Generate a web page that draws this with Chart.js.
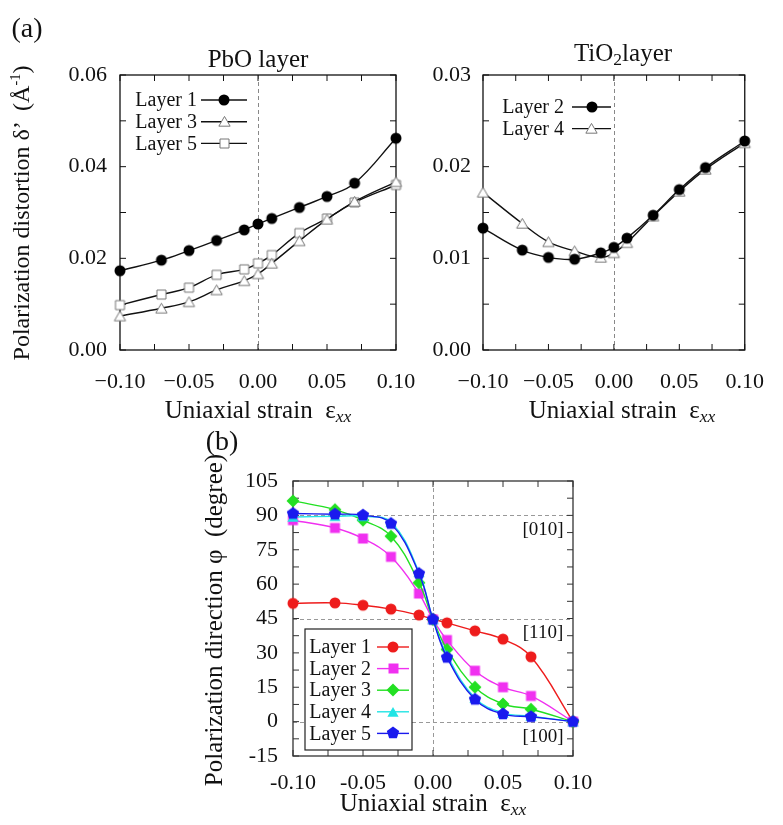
<!DOCTYPE html>
<html>
<head>
<meta charset="utf-8">
<script src="https://cdn.jsdelivr.net/npm/chart.js@4.4.1/dist/chart.umd.min.js"></script>
<style>
html,body{margin:0;padding:0;background:#fff;}
#page{position:relative;width:783px;height:825px;overflow:hidden;font-family:"Liberation Serif","DejaVu Serif",serif;color:#111;}
canvas{position:absolute;left:0;top:0;}
.lbl{position:absolute;white-space:nowrap;line-height:1;transform:translate(-50%,-50%);}
.rot{transform:translate(-50%,-50%) rotate(-90deg);}
sub{font-size:70%;vertical-align:-0.25em;line-height:0;}
sup{font-size:60%;vertical-align:0.6em;line-height:0;}
</style>
</head>
<body>
<div id="page">
  <canvas id="pbo" width="783" height="825"></canvas>
  <canvas id="tio" width="783" height="825"></canvas>
  <canvas id="phi" width="783" height="825"></canvas>

  <div class="lbl" style="left:27px;top:28px;font-size:28px">(a)</div>
  <div class="lbl" style="left:258px;top:58px;font-size:25px">PbO layer</div>
  <div class="lbl" style="left:623px;top:52px;font-size:25px">TiO<sub>2</sub>layer</div>
  <div class="lbl rot" style="left:21px;top:213px;font-size:24px">Polarization distortion δ’ &nbsp;(Å<sup>-1</sup>)</div>
  <div class="lbl" style="left:258px;top:409px;font-size:25px">Uniaxial strain &nbsp;ε<sub><i>xx</i></sub></div>
  <div class="lbl" style="left:622px;top:409px;font-size:25px">Uniaxial strain &nbsp;ε<sub><i>xx</i></sub></div>

  <div class="lbl" style="left:222px;top:441px;font-size:28px">(b)</div>
  <div class="lbl rot" style="left:213px;top:620px;font-size:25px">Polarization direction φ &nbsp;(degree)</div>
  <div class="lbl" style="left:433px;top:802px;font-size:25px">Uniaxial strain &nbsp;ε<sub><i>xx</i></sub></div>
  <div class="lbl" style="left:543px;top:528px;font-size:19px">[010]</div>
  <div class="lbl" style="left:543px;top:631px;font-size:19px">[110]</div>
  <div class="lbl" style="left:543px;top:735px;font-size:19px">[100]</div>
</div>
<script>
// values
const strain = [-0.10, -0.07, -0.05, -0.03, -0.01, 0.00, 0.01, 0.03, 0.05, 0.07, 0.10];

const pboLayer1 = [0.0173, 0.0196, 0.0217, 0.0239, 0.0262, 0.0275, 0.0287, 0.0311, 0.0335, 0.0364, 0.0462];
const pboLayer3 = [0.0074, 0.0091, 0.0105, 0.0131, 0.0151, 0.0166, 0.0189, 0.0238, 0.0285, 0.0324, 0.0367];
const pboLayer5 = [0.0098, 0.0121, 0.0136, 0.0164, 0.0176, 0.0189, 0.0207, 0.0255, 0.0287, 0.0322, 0.0360];

const tioLayer2 = [0.0133, 0.0109, 0.0101, 0.0099, 0.0106, 0.0112, 0.0122, 0.0147, 0.0175, 0.0199, 0.0228];
const tioLayer4 = [0.0172, 0.0138, 0.0118, 0.0108, 0.0101, 0.0106, 0.0117, 0.0146, 0.0173, 0.0197, 0.0226];

const phiLayer1 = [51.6, 51.8, 50.8, 49.1, 46.5, 44.7, 43.1, 39.6, 36.0, 28.3, 0];
const phiLayer2 = [87.9, 84.5, 79.9, 71.9, 55.9, 44.6, 35.6, 22.2, 15.0, 11.2, 0];
const phiLayer3 = [96.3, 92.5, 87.9, 80.9, 60.6, 44.6, 31.5, 15.0, 7.7, 5.4, 0];
const phiLayer4 = [89.3, 89.6, 89.6, 87.0, 65.2, 44.6, 29.0, 10.3, 3.8, 2.4, 0];
const phiLayer5 = [90.8, 90.5, 90.1, 86.4, 64.6, 44.6, 28.0, 9.7, 3.3, 2.1, 0];

const strainTicks = [-0.10, -0.05, 0.00, 0.05, 0.10];
const pboTicks = [0.00, 0.02, 0.04, 0.06];
const tioTicks = [0.00, 0.01, 0.02, 0.03];
const phiTicks = [-15, 0, 15, 30, 45, 60, 75, 90, 105];

Chart.defaults.font.family = '"Liberation Serif", "DejaVu Serif", serif';
Chart.defaults.color = '#111';
Chart.defaults.animation = false;

const pts = ys => ys.map((y, i) => ({ x: strain[i], y }));

// marker sprites, used by the chart points and by the hand drawn legends
function marker(shape, d, fill, stroke, lw) {
  const n = Math.ceil(d + lw + 3), c = document.createElement('canvas');
  c.width = c.height = n;
  const g = c.getContext('2d'), m = n / 2, r = d / 2;
  g.beginPath();
  if (shape === 'circle') g.arc(m, m, r, 0, Math.PI * 2);
  else if (shape === 'square') g.rect(m - r, m - r, d, d);
  else {
    const k = { triangle: 3, diamond: 4, pentagon: 5 }[shape];
    const dy = shape === 'triangle' ? r * 0.22 : 0;
    for (let i = 0; i < k; i++) {
      const a = -Math.PI / 2 + i * 2 * Math.PI / k;
      g.lineTo(m + r * Math.cos(a), m + dy + r * Math.sin(a));
    }
    g.closePath();
  }
  g.fillStyle = fill; g.fill();
  if (lw) { g.strokeStyle = stroke; g.lineWidth = lw; g.stroke(); }
  return c;
}

function ds(label, ys, color, mk, order) {
  return {
    label, data: pts(ys), borderColor: color, borderWidth: 1.4,
    pointStyle: mk, pointRadius: 5, pointHoverRadius: 5,
    tension: 0.4, clip: false, fill: false, order
  };
}

const dash = v => (v < 0 ? '\u2212' : '') + Math.abs(v).toFixed(2);
const hyph = v => v.toFixed(2);

function scaleX(ticks, fmt, pad, h) {
  return {
    type: 'linear', min: -0.1, max: 0.1,
    grid: { display: false, drawTicks: false }, border: { display: false },
    afterBuildTicks: s => { s.ticks = ticks.map(v => ({ value: v })); },
    afterFit: s => { s.height = h; },
    ticks: { autoSkip: false, maxRotation: 0, minRotation: 0, padding: pad, font: { size: 22 }, callback: fmt }
  };
}
function scaleY(min, max, ticks, fmt, pad) {
  return {
    type: 'linear', min, max,
    grid: { display: false, drawTicks: false }, border: { display: false },
    afterBuildTicks: s => { s.ticks = ticks.map(v => ({ value: v })); },
    afterFit: s => { s.width = 60; },
    ticks: { autoSkip: false, padding: pad, font: { size: 22 }, callback: fmt }
  };
}

function line(ctx, x0, y0, x1, y1) { ctx.beginPath(); ctx.moveTo(x0, y0); ctx.lineTo(x1, y1); ctx.stroke(); }

// frame with inward ticks on all sides, dashed guides, and the legend
const framePlugin = {
  id: 'frame',
  beforeDatasetsDraw(chart, args, o) {
    const { ctx, chartArea: a, scales: { x, y } } = chart;
    ctx.save();
    ctx.strokeStyle = o.guide; ctx.lineWidth = 1; ctx.setLineDash([4, 3]);
    (o.vGuides || []).forEach(v => { const p = Math.round(x.getPixelForValue(v)) + 0.5; line(ctx, p, a.top, p, a.bottom); });
    (o.hGuides || []).forEach(v => { const p = Math.round(y.getPixelForValue(v)) + 0.5; line(ctx, a.left, p, a.right, p); });
    ctx.setLineDash([]);
    ctx.strokeStyle = o.color; ctx.lineWidth = 1.3;
    ctx.strokeRect(a.left, a.top, a.right - a.left, a.bottom - a.top);
    ctx.lineWidth = 1;
    for (let v = x.min; v <= x.max + 1e-9; v += o.xStep) {
      const p = x.getPixelForValue(v);
      line(ctx, p, a.bottom, p, a.bottom - 6); line(ctx, p, a.top, p, a.top + 6);
    }
    for (let v = y.min; v <= y.max + 1e-9; v += o.yStep) {
      const p = y.getPixelForValue(v);
      line(ctx, a.left, p, a.left + 6, p); line(ctx, a.right, p, a.right - 6, p);
    }
    ctx.restore();
  },
  afterDatasetsDraw(chart, args, o) {
    const L = o.legend, ctx = chart.ctx;
    ctx.save();
    if (L.box) {
      ctx.fillStyle = '#fff'; ctx.strokeStyle = '#222'; ctx.lineWidth = 1.2;
      ctx.fillRect(L.box[0], L.box[1], L.box[2] - L.box[0], L.box[3] - L.box[1]);
      ctx.strokeRect(L.box[0], L.box[1], L.box[2] - L.box[0], L.box[3] - L.box[1]);
    }
    ctx.font = '20px "Liberation Serif", serif';
    ctx.textAlign = 'right'; ctx.textBaseline = 'middle'; ctx.fillStyle = '#111';
    chart.data.datasets.forEach((d, i) => {
      const yy = L.y0 + i * L.dy;
      ctx.fillText(d.label, L.textRight, yy + 1);
      ctx.strokeStyle = d.borderColor; ctx.lineWidth = d.borderWidth;
      line(ctx, L.x0, yy, L.x1, yy);
      const m = d.pointStyle;
      ctx.drawImage(m, Math.round((L.x0 + L.x1) / 2 - m.width / 2), Math.round(yy - m.height / 2));
    });
    ctx.restore();
  }
};

function pad(left, top, right, bottom, xh) {
  return { left: left - 60, top, right: 783 - right, bottom: 825 - bottom - xh };
}

const blackDot = marker('circle', 11, '#000', '#000', 0);
const hollowTri = marker('triangle', 13, '#fff', '#777', 1);
const hollowSq = marker('square', 9, '#fff', '#777', 1);

new Chart(document.getElementById('pbo'), {
  type: 'line',
  data: { datasets: [
    ds('Layer 1', pboLayer1, '#111', blackDot, 1),
    ds('Layer 3', pboLayer3, '#111', hollowTri, 2),
    ds('Layer 5', pboLayer5, '#111', hollowSq, 3)
  ] },
  plugins: [framePlugin],
  options: {
    responsive: false,
    layout: { padding: pad(120, 75, 396, 350, 60) },
    plugins: { legend: { display: false }, tooltip: { enabled: false },
      frame: { color: '#111', guide: '#888', vGuides: [0], xStep: 0.025, yStep: 0.01,
        legend: { textRight: 197, x0: 201, x1: 247, y0: 100, dy: 21.7 } } },
    scales: { x: scaleX(strainTicks, dash, 19, 60), y: scaleY(0, 0.06, pboTicks, v => v.toFixed(2), 13) }
  }
});

new Chart(document.getElementById('tio'), {
  type: 'line',
  data: { datasets: [
    ds('Layer 2', tioLayer2, '#111', blackDot, 1),
    ds('Layer 4', tioLayer4, '#111', hollowTri, 2)
  ] },
  plugins: [framePlugin],
  options: {
    responsive: false,
    layout: { padding: pad(483, 75, 761, 350, 60) },
    plugins: { legend: { display: false }, tooltip: { enabled: false },
      frame: { color: '#111', guide: '#888', vGuides: [0], xStep: 0.025, yStep: 0.005,
        legend: { textRight: 564, x0: 572, x1: 611, y0: 107, dy: 21.6 } } },
    scales: { x: scaleX(strainTicks, dash, 19, 60), y: scaleY(0, 0.03, tioTicks, v => v.toFixed(2), 12) }
  }
});

new Chart(document.getElementById('phi'), {
  type: 'line',
  data: { datasets: [
    ds('Layer 1', phiLayer1, '#ee1c1c', marker('circle', 11, '#ee1c1c', '#ee1c1c', 0), 5),
    ds('Layer 2', phiLayer2, '#f030f0', marker('square', 10, '#f030f0', '#f030f0', 0), 4),
    ds('Layer 3', phiLayer3, '#22e022', marker('diamond', 13, '#22e022', '#22e022', 0), 3),
    ds('Layer 4', phiLayer4, '#22e4e4', marker('triangle', 13, '#22e4e4', '#22e4e4', 0), 2),
    ds('Layer 5', phiLayer5, '#1a1aee', marker('pentagon', 13, '#1a1aee', '#1a1aee', 0), 1)
  ] },
  plugins: [framePlugin],
  options: {
    responsive: false,
    layout: { padding: pad(293, 481, 573, 756, 50) },
    plugins: { legend: { display: false }, tooltip: { enabled: false },
      frame: { color: '#333', guide: '#999', vGuides: [0], hGuides: [0, 45, 90], xStep: 0.025, yStep: 7.5,
        legend: { box: [305, 629, 412, 750], textRight: 371, x0: 377, x1: 409, y0: 647, dy: 21.6 } } },
    scales: { x: scaleX(strainTicks, hyph, 14, 50), y: scaleY(-15, 105, phiTicks, v => String(v), 15) }
  }
});
</script>
</body>
</html>
